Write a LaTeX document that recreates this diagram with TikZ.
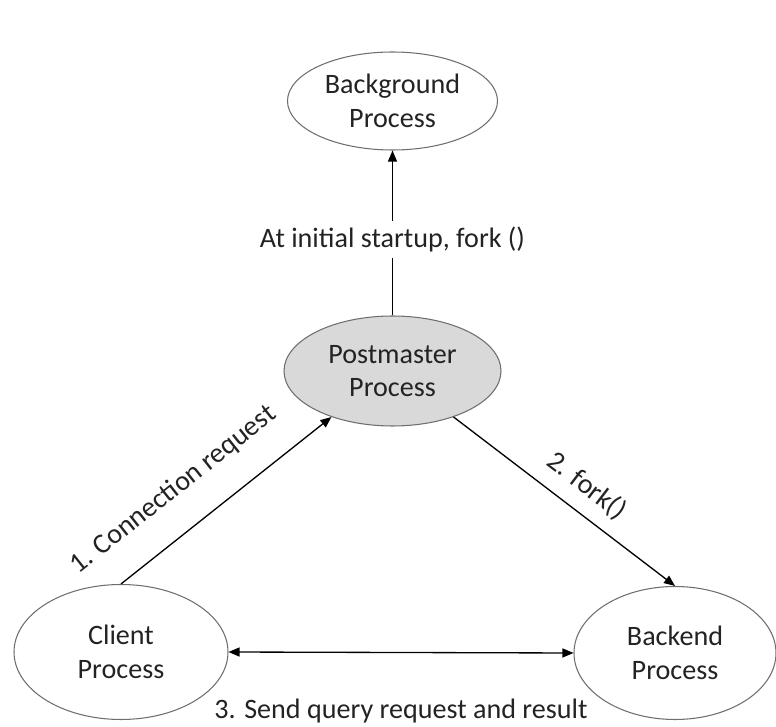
\documentclass[tikz,border=0pt]{standalone}
\usepackage{fontspec}
\setmainfont{Carlito}
\usepackage{tikz}
\usetikzlibrary{arrows.meta, positioning, shapes.geometric}
\definecolor{pmgray}{RGB}{217,217,217}
\definecolor{edgegray}{RGB}{110,110,110}
\definecolor{textgray}{RGB}{35,35,35}

\begin{document}
\begin{tikzpicture}[
        proc/.style={draw=edgegray, ellipse, line width=0.6pt, inner sep=0pt, align=center, text=textgray, font=\fontsize{16}{19}\selectfont},
        arr/.style={-{Triangle[length=0.22cm, width=0.18cm]}, line width=0.75pt},
        lbl/.style={font=\fontsize{16}{19}\selectfont, text=textgray}
    ]
        \useasboundingbox (0,0) rectangle (15.52,14.54);

        % Processes
        \node[proc, minimum width=4.2cm, minimum height=1.96cm] (bg) at (7.85, 12.52) {Background\\Process};
        \node[proc, fill=pmgray, minimum width=4.34cm, minimum height=2.2cm] (pm) at (7.85, 7.12) {Postmaster\\Process};
        \node[proc, minimum width=4.28cm, minimum height=2.7cm] (client) at (2.42, 1.5) {Client\\Process};
        \node[proc, minimum width=4.04cm, minimum height=2.66cm] (backend) at (13.5, 1.48) {Backend\\Process};

        % Startup fork
        \draw[arr] (pm.north) -- node[lbl, pos=0.46, fill=white] {At initial startup, fork ()} (bg.south);

        % Numbered steps
        \draw[arr] (client.north) -- node[lbl, pos=0.37, sloped, above=0.45cm] {1. Connection request} (pm.217);
        \draw[arr] (pm.-37) -- node[lbl, pos=0.53, sloped, above=0.15cm] {2. fork()} (backend.north);
        \draw[arr, {Triangle[length=0.22cm, width=0.18cm]}-{Triangle[length=0.22cm, width=0.18cm]}] (client.east) -- node[lbl, below=0.8cm] {3. Send query request and result} (backend.west);
    \end{tikzpicture}
\end{document}
